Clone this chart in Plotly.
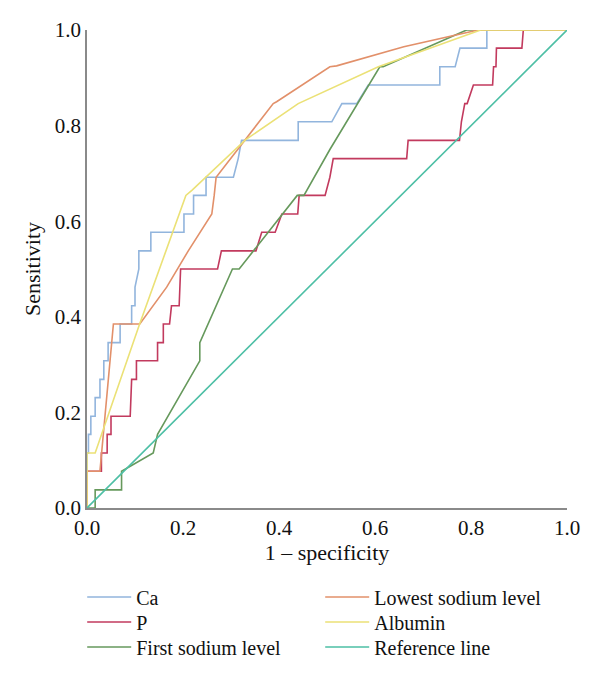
import plotly.graph_objects as go

# ---- data (1 - specificity, sensitivity) ----
ca_fpr = [0, 0, 0.003, 0.003, 0.008, 0.008, 0.017, 0.017, 0.027, 0.027, 0.035, 0.035, 0.044, 0.044,
          0.069, 0.069, 0.093, 0.093, 0.100, 0.100, 0.108, 0.108, 0.133, 0.133, 0.202, 0.202,
          0.222, 0.222, 0.248, 0.248, 0.305, 0.315, 0.322, 0.440, 0.440, 0.510, 0.531, 0.562,
          0.586, 0.735, 0.735, 0.767, 0.777, 0.833, 0.833, 1.0]
ca_tpr = [0, 0.115, 0.115, 0.154, 0.154, 0.192, 0.192, 0.231, 0.231, 0.269, 0.269, 0.308, 0.308, 0.346,
          0.346, 0.385, 0.385, 0.423, 0.423, 0.462, 0.500, 0.538, 0.538, 0.577, 0.577, 0.615,
          0.615, 0.654, 0.654, 0.692, 0.692, 0.731, 0.769, 0.769, 0.808, 0.808, 0.846, 0.846,
          0.885, 0.885, 0.923, 0.923, 0.962, 0.962, 1.0, 1.0]

p_fpr = [0, 0, 0.030, 0.030, 0.042, 0.042, 0.050, 0.050, 0.090, 0.093, 0.103, 0.103, 0.147, 0.147,
         0.159, 0.159, 0.172, 0.176, 0.192, 0.195, 0.272, 0.280, 0.352, 0.364, 0.392, 0.406,
         0.439, 0.442, 0.496, 0.506, 0.513, 0.666, 0.669, 0.776, 0.780, 0.787, 0.792, 0.805,
         0.845, 0.847, 0.852, 0.853, 0.906, 0.909, 1.0]
p_tpr = [0, 0.077, 0.077, 0.115, 0.115, 0.154, 0.154, 0.192, 0.192, 0.269, 0.269, 0.308, 0.308, 0.346,
         0.346, 0.385, 0.385, 0.423, 0.423, 0.500, 0.500, 0.538, 0.538, 0.577, 0.577, 0.615,
         0.615, 0.654, 0.654, 0.692, 0.731, 0.731, 0.769, 0.769, 0.808, 0.846, 0.846, 0.885,
         0.885, 0.923, 0.923, 0.962, 0.962, 1.0, 1.0]

first_na_fpr = [0, 0.017, 0.017, 0.072, 0.072, 0.138, 0.147, 0.235, 0.235, 0.303, 0.317, 0.438,
                0.452, 0.506, 0.610, 0.617, 0.791, 1.0]
first_na_tpr = [0, 0, 0.038, 0.038, 0.077, 0.115, 0.154, 0.308, 0.346, 0.500, 0.500, 0.654,
                0.654, 0.750, 0.923, 0.923, 1.0, 1.0]

lowest_na_fpr = [0, 0, 0.027, 0.055, 0.110, 0.166, 0.211, 0.260, 0.265, 0.269, 0.388, 0.395,
                 0.506, 0.520, 0.649, 0.660, 0.815, 1.0]
lowest_na_tpr = [0, 0.077, 0.077, 0.385, 0.385, 0.462, 0.538, 0.615, 0.654, 0.692, 0.846, 0.850,
                 0.923, 0.925, 0.962, 0.965, 1.0, 1.0]

albumin_fpr = [0, 0, 0.017, 0.108, 0.206, 0.219, 0.330, 0.440, 0.607, 0.820, 1.0]
albumin_tpr = [0, 0.115, 0.115, 0.380, 0.654, 0.665, 0.770, 0.846, 0.923, 1.0, 1.0]

ref_fpr = [0, 1]
ref_tpr = [0, 1]

# name, x, y, colour, legend row
series = [
    ("Ca", ca_fpr, ca_tpr, "#92b5dd", "legend"),
    ("P", p_fpr, p_tpr, "#c23a5e", "legend2"),
    ("First sodium level", first_na_fpr, first_na_tpr, "#66995c", "legend3"),
    ("Lowest sodium level", lowest_na_fpr, lowest_na_tpr, "#e2906a", "legend"),
    ("Albumin", albumin_fpr, albumin_tpr, "#ebe176", "legend2"),
    ("Reference line", ref_fpr, ref_tpr, "#4dbfa5", "legend3"),
]

FONT = "Liberation Serif"

fig = go.Figure()
for name, xs, ys, col, lg in series:
    fig.add_trace(go.Scatter(x=xs, y=ys, mode="lines", name=name,
                             line=dict(color=col, width=1.6), legend=lg))

axis_common = dict(range=[0, 1], showgrid=False, zeroline=False, showline=True,
                   linecolor="#8a8a8a", linewidth=1.5, ticks="", dtick=0.2,
                   tickformat=".1f", tickfont=dict(family=FONT, size=21, color="#111"))

def row_legend(ypix):
    return dict(x=-0.01, y=(508 - ypix) / 478, xanchor="left", yanchor="middle",
                orientation="h", entrywidth=179, entrywidthmode="pixels", itemwidth=44,
                font=dict(family=FONT, size=20, color="#111"), bgcolor="rgba(0,0,0,0)")

fig.update_layout(
    width=600, height=678,
    margin=dict(l=87, r=33, t=30, b=170),
    paper_bgcolor="white", plot_bgcolor="white",
    font=dict(family=FONT, color="#111"),
    xaxis=dict(**axis_common,
               title=dict(text="1 – specificity", font=dict(family=FONT, size=22), standoff=6)),
    yaxis=dict(**axis_common,
               title=dict(text="Sensitivity", font=dict(family=FONT, size=22), standoff=8)),
    legend=row_legend(597),
    legend2=row_legend(622),
    legend3=row_legend(647),
)

fig.write_html("out.html")
